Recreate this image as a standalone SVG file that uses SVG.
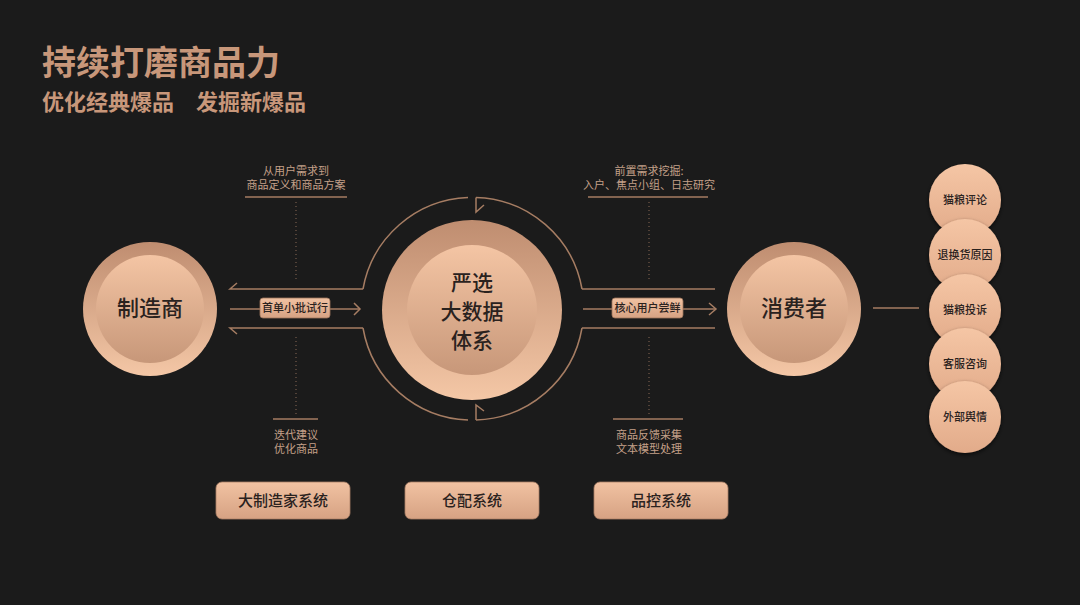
<svg xmlns="http://www.w3.org/2000/svg" width="1080" height="605" viewBox="0 0 1080 605">
<style>
.title{font-family:"Noto Sans CJK SC","Noto Sans",sans-serif;font-weight:700;fill:#c8977a}
.ann{font-family:"Noto Sans CJK SC","Noto Sans",sans-serif;font-size:11px;fill:#c4a089;text-anchor:middle}
.dark{font-family:"Noto Sans CJK SC","Noto Sans",sans-serif;fill:#2a221e;text-anchor:middle}
.big{font-size:22px;font-weight:500}
.mid{font-size:21px;font-weight:500}
.lbl{font-size:11px;font-weight:500}
.sm{font-size:11px;font-weight:500}
.box{font-size:15px;font-weight:500}
.ln{stroke:#a67d63;stroke-width:1.5;fill:none}
.dot{stroke:#8a6a56;stroke-width:1;stroke-dasharray:1 3;fill:none}
</style>
<defs>
<linearGradient id="outer" x1="0" y1="0" x2="0" y2="1">
<stop offset="0" stop-color="#bf8d70"/>
<stop offset="1" stop-color="#f4c7a6"/>
</linearGradient>
<linearGradient id="inner" x1="0" y1="0" x2="0" y2="1">
<stop offset="0" stop-color="#f4c5a4"/>
<stop offset="1" stop-color="#c79779"/>
</linearGradient>
<linearGradient id="small" x1="0" y1="0" x2="0" y2="1">
<stop offset="0" stop-color="#f5c6a5"/>
<stop offset="1" stop-color="#e2ab8a"/>
</linearGradient>
<linearGradient id="btn" x1="0" y1="0" x2="0" y2="1">
<stop offset="0" stop-color="#f1c2a2"/>
<stop offset="1" stop-color="#d6a283"/>
</linearGradient>
<filter id="sh" x="-30%" y="-30%" width="160%" height="170%">
<feDropShadow dx="0" dy="2" stdDeviation="2" flood-color="#000" flood-opacity="0.6"/>
</filter>
</defs>
<rect width="1080" height="605" fill="#1b1b1b"/>

<text class="title" x="42" y="75" font-size="34">持续打磨商品力</text>
<text class="title" x="42" y="110" font-size="22">优化经典爆品</text>
<text class="title" x="196" y="110" font-size="22">发掘新爆品</text>

<g id="connectors">
<polyline class="ln" points="237,283 230,289 363,289"/>
<line class="ln" x1="230" y1="309" x2="360" y2="309"/>
<polyline class="ln" points="354,303 360,309 354,315"/>
<polyline class="ln" points="237,334 230,328 363,328"/>
<path class="ln" d="M363,289 A111,111 0 0 1 468,197.5"/>
<path class="ln" d="M476,197.5 A111,111 0 0 1 582,289"/>
<polyline class="ln" points="476,197.5 476,212 484,205"/>
<path class="ln" d="M363,328 A111,111 0 0 0 468,420"/>
<path class="ln" d="M476,420 A111,111 0 0 0 582,328"/>
<polyline class="ln" points="476,420 476,405 484,411"/>
<line class="ln" x1="582" y1="289" x2="715" y2="289"/>
<line class="ln" x1="583" y1="309" x2="716" y2="309"/>
<polyline class="ln" points="709,303 716,309 709,315"/>
<line class="ln" x1="582" y1="328" x2="715" y2="328"/>
<line class="ln" x1="873" y1="308" x2="919" y2="308"/>
<line class="ln" x1="245" y1="197" x2="347" y2="197"/>
<line class="dot" x1="296" y1="202" x2="296" y2="281"/>
<line class="dot" x1="296" y1="337" x2="296" y2="417"/>
<line class="ln" x1="273" y1="419" x2="318" y2="419"/>
<line class="ln" x1="588" y1="197" x2="708" y2="197"/>
<line class="dot" x1="649" y1="202" x2="649" y2="281"/>
<line class="dot" x1="649" y1="337" x2="649" y2="417"/>
<line class="ln" x1="613" y1="419" x2="683" y2="419"/>
</g>

<g id="ann-left">
<text class="ann" x="296" y="175">从用户需求到</text>
<text class="ann" x="296" y="189">商品定义和商品方案</text>
<text class="ann" x="296" y="439">迭代建议</text>
<text class="ann" x="296" y="453">优化商品</text>
</g>
<g id="ann-right">
<text class="ann" x="649" y="175">前置需求挖掘:</text>
<text class="ann" x="649" y="189">入户、焦点小组、日志研究</text>
<text class="ann" x="649" y="439">商品反馈采集</text>
<text class="ann" x="649" y="453">文本模型处理</text>
</g>

<g id="label-left">
<rect x="260" y="298" width="70" height="20" rx="3" fill="url(#btn)" stroke="#9c735b" stroke-width="0.8"/>
<text class="dark lbl" x="295" y="312">首单小批试行</text>
</g>
<g id="label-right">
<rect x="612" y="298" width="71" height="20" rx="3" fill="url(#btn)" stroke="#9c735b" stroke-width="0.8"/>
<text class="dark lbl" x="647.5" y="312">核心用户尝鲜</text>
</g>

<g id="manufacturer">
<circle cx="150" cy="309" r="67" fill="url(#outer)"/>
<circle cx="150" cy="309" r="54" fill="url(#inner)"/>
<text class="dark big" x="150" y="316">制造商</text>
</g>

<g id="center">
<circle cx="472" cy="310" r="90" fill="url(#outer)"/>
<circle cx="472" cy="310" r="65" fill="url(#inner)"/>
<text class="dark mid" x="472" y="290">严选</text>
<text class="dark mid" x="472" y="319">大数据</text>
<text class="dark mid" x="472" y="348">体系</text>
</g>

<g id="consumer">
<circle cx="794" cy="309" r="67" fill="url(#outer)"/>
<circle cx="794" cy="309" r="54" fill="url(#inner)"/>
<text class="dark big" x="794" y="316">消费者</text>
</g>

<g id="s1"><circle cx="965" cy="200" r="36" fill="url(#small)" filter="url(#sh)"/><text class="dark sm" x="965" y="204">猫粮评论</text></g>
<g id="s2"><circle cx="965" cy="255" r="36" fill="url(#small)" filter="url(#sh)"/><text class="dark sm" x="965" y="259">退换货原因</text></g>
<g id="s3"><circle cx="965" cy="310" r="36" fill="url(#small)" filter="url(#sh)"/><text class="dark sm" x="965" y="314">猫粮投诉</text></g>
<g id="s4"><circle cx="965" cy="364" r="36" fill="url(#small)" filter="url(#sh)"/><text class="dark sm" x="965" y="368">客服咨询</text></g>
<g id="s5"><circle cx="965" cy="417" r="36" fill="url(#small)" filter="url(#sh)"/><text class="dark sm" x="965" y="421">外部舆情</text></g>

<g id="sys1">
<rect x="216" y="482" width="134" height="37" rx="6" fill="url(#btn)" stroke="#a87f66" stroke-width="0.8"/>
<text class="dark box" x="283" y="506">大制造家系统</text>
</g>
<g id="sys2">
<rect x="405" y="482" width="134" height="37" rx="6" fill="url(#btn)" stroke="#a87f66" stroke-width="0.8"/>
<text class="dark box" x="472" y="506">仓配系统</text>
</g>
<g id="sys3">
<rect x="594" y="482" width="134" height="37" rx="6" fill="url(#btn)" stroke="#a87f66" stroke-width="0.8"/>
<text class="dark box" x="661" y="506">品控系统</text>
</g>
</svg>
